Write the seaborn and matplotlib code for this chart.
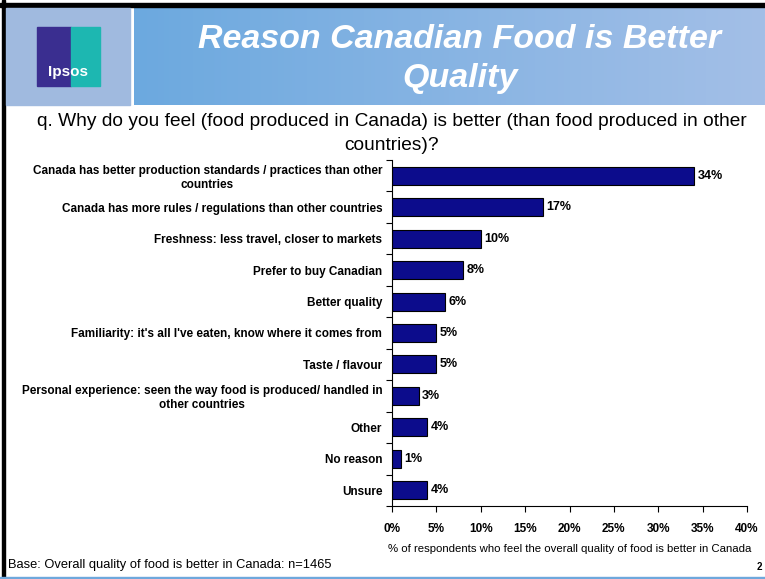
import numpy as np
import pandas as pd
import matplotlib
matplotlib.use("Agg")
import matplotlib.pyplot as plt
from matplotlib.patches import Rectangle
import seaborn as sns

# chart data
reasons = [
    "Canada has better production standards / practices than other\ncountries",
    "Canada has more rules / regulations than other countries",
    "Freshness: less travel, closer to markets",
    "Prefer to buy Canadian",
    "Better quality",
    "Familiarity: it's all I've eaten, know where it comes from",
    "Taste / flavour",
    "Personal experience: seen the way food is produced/ handled in\nother countries",
    "Other",
    "No reason",
    "Unsure",
]
percents = [34, 17, 10, 8, 6, 5, 5, 3, 4, 1, 4]
x_ticks = [0, 5, 10, 15, 20, 25, 30, 35, 40]

W, H = 765, 579

sns.set_theme(style="white")
plt.rcParams["font.family"] = ["Liberation Sans", "DejaVu Sans"]
plt.rcParams["text.color"] = "black"
plt.rcParams["axes.labelcolor"] = "black"
plt.rcParams["xtick.color"] = "black"
plt.rcParams["ytick.color"] = "black"

fig = plt.figure(figsize=(W / 100, H / 100), dpi=100)


def fx(x):
    return x / W


def fy(y):
    return 1 - y / H


# slide frame: black left / top border, blue bottom rule
fig.patches.append(Rectangle((fx(2), 0), fx(3), 1, transform=fig.transFigure,
                             color="black", zorder=0))
fig.patches.append(Rectangle((0, fy(7)), 1, 4 / H, transform=fig.transFigure,
                             color="black", zorder=0))
fig.patches.append(Rectangle((0, fy(579)), 1, 2 / H, transform=fig.transFigure,
                             color="#6FA8DC", zorder=0))

# header: logo box + gradient banner
fig.patches.append(Rectangle((fx(6), fy(105)), fx(124), 97 / H, transform=fig.transFigure,
                             color="#A0BADF", zorder=1))
grad_ax = fig.add_axes([fx(134), fy(105), fx(W - 134), 97 / H])
grad = np.linspace(0, 1, 256).reshape(1, -1)
cmap = matplotlib.colors.LinearSegmentedColormap.from_list("hdr", ["#6CA9DF", "#A3BFE7"])
grad_ax.imshow(grad, aspect="auto", cmap=cmap)
grad_ax.axis("off")

# Ipsos logo (simplified)
fig.patches.append(Rectangle((fx(37), fy(86)), fx(34), 59 / H, transform=fig.transFigure,
                             color="#3A2E90", zorder=2))
fig.patches.append(Rectangle((fx(71), fy(86)), fx(29), 59 / H, transform=fig.transFigure,
                             color="#1DB7B1", zorder=2))
fig.text(fx(68), fy(72), "Ipsos", color="white", fontsize=11, fontweight="bold",
         ha="center", va="center", zorder=3)

fig.text(fx(460), fy(39), "Reason Canadian Food is Better", color="white",
         fontsize=24.5, fontweight="bold", fontstyle="italic", ha="center", va="center")
fig.text(fx(460), fy(78), "Quality", color="white",
         fontsize=24.5, fontweight="bold", fontstyle="italic", ha="center", va="center")

fig.text(fx(392), fy(121), "q. Why do you feel (food produced in Canada) is better (than food produced in other",
         fontsize=13.8, ha="center", va="center")
fig.text(fx(392), fy(145), "countries)?", fontsize=13.8, ha="center", va="center")

# bar chart
df = pd.DataFrame({"reason": reasons, "pct": percents})
ax = fig.add_axes([fx(392), fy(506), fx(747 - 392), (506 - 160) / H])
sns.barplot(data=df, x="pct", y="reason", orient="h", ax=ax, color="#0C0C8C",
            edgecolor="black", linewidth=0.8, width=0.57, saturation=1)

for i, v in enumerate(percents):
    ax.text(v + 0.4, i, f"{v}%", va="center", ha="left", fontsize=9,
            fontweight="bold")

ax.set_xlim(0, 40)
ax.set_ylim(len(reasons) - 0.5, -0.5)
ax.set_xticks(x_ticks)
ax.set_xticklabels([f"{t}%" for t in x_ticks], fontsize=8.5, fontweight="bold")
ax.set_yticks(range(len(reasons)))
ax.set_yticklabels(reasons, fontsize=8.5, fontweight="bold", multialignment="center")
ax.set_yticks(np.arange(-0.5, len(reasons), 1), minor=True)
ax.tick_params(axis="y", which="major", length=0, pad=7)
ax.tick_params(axis="y", which="minor", length=4, width=0.8, left=True)
ax.tick_params(axis="x", which="major", length=4, width=0.8, bottom=True, pad=8)
ax.set_xlabel("% of respondents who feel the overall quality of food is better in Canada",
              fontsize=8.2, labelpad=7)
ax.set_ylabel("")
for side in ["top", "right"]:
    ax.spines[side].set_visible(False)
for side in ["left", "bottom"]:
    ax.spines[side].set_color("black")
    ax.spines[side].set_linewidth(0.8)
ax.grid(False)
ax.set_facecolor("none")

fig.text(fx(8), fy(565), "Base: Overall quality of food is better in Canada: n=1465",
         fontsize=9.3, ha="left", va="center")
fig.text(fx(757), fy(567), "2", fontsize=7, fontweight="bold", ha="left", va="center")

fig.savefig("out.png", dpi=100)
